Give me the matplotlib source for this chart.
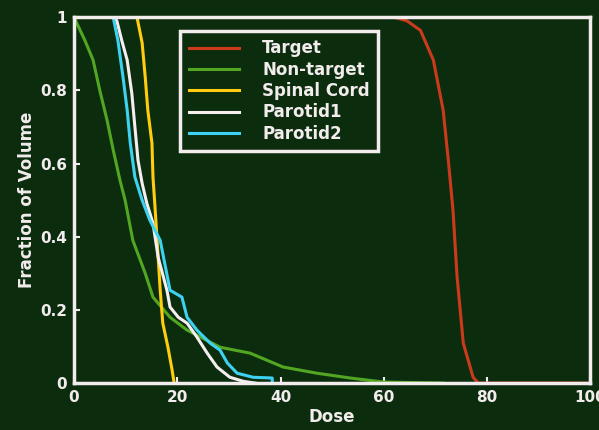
"""
Dose-volume histogram: target, non-target and three organs at risk.
Dark green background, white frame and bold white text.
Saves out.png at 599x430.
"""

import matplotlib.pyplot as plt

BG = '#0b2d0e'
FG = '#f2ecec'

# --------------------------------------------------------------------------- #
# Data
# --------------------------------------------------------------------------- #

target_dose = [0, 62, 64.5, 67.1, 69.6, 71.5, 72.5, 73.4, 74.2, 75.4, 77.3, 78.3, 100]
target_frac = [1.0, 1.0, 0.99, 0.964, 0.883, 0.746, 0.609, 0.473, 0.29, 0.109, 0.016, 0.0, 0.0]

nontarget_dose = [0, 2.1, 3.7, 5.0, 6.4, 7.6, 8.9, 9.9, 11.4, 13.8, 15.3, 18.6,
                  21.9, 28.3, 34.1, 40.5, 47.1, 53.5, 59.9, 71.5]
nontarget_frac = [1.0, 0.937, 0.883, 0.80, 0.719, 0.637, 0.555, 0.50, 0.39, 0.30,
                  0.235, 0.18, 0.145, 0.098, 0.082, 0.044, 0.027, 0.014, 0.003, 0.0]

cord_dose = [0, 12.2, 13.2, 13.8, 14.3, 15.1, 15.3, 15.7, 16.1, 16.7, 17.2, 18.2, 19.0, 19.4]
cord_frac = [1.0, 1.0, 0.93, 0.836, 0.746, 0.656, 0.563, 0.48, 0.39, 0.254, 0.164,
             0.098, 0.036, 0.0]

parotid1_dose = [0, 7.6, 8.3, 9.3, 10.3, 11.2, 11.8, 12.4, 13.2, 14.1, 15.3, 16.3,
                 18.0, 18.6, 20.2, 21.9, 23.8, 25.8, 27.7, 30.2, 32.8, 35.1]
parotid1_frac = [1.0, 1.0, 0.99, 0.934, 0.883, 0.792, 0.70, 0.609, 0.546, 0.492,
                 0.437, 0.344, 0.254, 0.208, 0.18, 0.164, 0.126, 0.082, 0.044,
                 0.016, 0.005, 0.0]

parotid2_dose = [0, 7.6, 8.5, 9.5, 10.3, 10.9, 11.8, 13.2, 14.7, 16.7, 18.6, 20.9,
                 21.9, 23.8, 26.4, 28.3, 29.7, 31.6, 34.7, 38.4, 38.4]
parotid2_frac = [1.0, 1.0, 0.937, 0.836, 0.746, 0.656, 0.563, 0.50, 0.445, 0.39,
                 0.254, 0.235, 0.18, 0.145, 0.109, 0.09, 0.055, 0.027, 0.016,
                 0.014, 0.0]

x_ticks = [0, 20, 40, 60, 80, 100]
y_ticks = [0, 0.2, 0.4, 0.6, 0.8, 1]
y_tick_labels = ['0', '0.2', '0.4', '0.6', '0.8', '1']


# --------------------------------------------------------------------------- #
# Plot
# --------------------------------------------------------------------------- #

fig = plt.figure(figsize=(5.99, 4.30), dpi=100, facecolor=BG)
ax = fig.add_axes([0.1235, 0.109, 0.862, 0.851], facecolor=BG)

ax.plot(target_dose, target_frac, color='#cc3a1c', lw=2.2, label='Target')
ax.plot(nontarget_dose, nontarget_frac, color='#52a622', lw=2.2, label='Non-target')
ax.plot(cord_dose, cord_frac, color='#ffcc10', lw=2.2, label='Spinal Cord')
ax.plot(parotid1_dose, parotid1_frac, color='#f4eef0', lw=2.2, label='Parotid1')
ax.plot(parotid2_dose, parotid2_frac, color='#3ed2f2', lw=2.2, label='Parotid2')

ax.set_xlim(0, 100)
ax.set_ylim(0, 1)
ax.set_xticks(x_ticks)
ax.set_yticks(y_ticks)
ax.set_yticklabels(y_tick_labels)
ax.tick_params(colors=FG, direction='in', length=4, width=1.5,
               labelsize=11, pad=5)
for lab in ax.get_xticklabels() + ax.get_yticklabels():
    lab.set_fontweight('bold')
for sp in ax.spines.values():
    sp.set_color(FG)
    sp.set_linewidth(2.5)

ax.set_xlabel('Dose', color=FG, fontsize=12, fontweight='bold', labelpad=2)
ax.set_ylabel('Fraction of Volume', color=FG, fontsize=12, fontweight='bold',
              labelpad=3)

leg = ax.legend(loc='upper left', bbox_to_anchor=(0.19, 0.985),
                facecolor=BG, edgecolor=FG, framealpha=1, fancybox=False,
                handlelength=3.0, handletextpad=1.4, borderpad=0.5,
                labelspacing=0.2, prop={'weight': 'bold', 'size': 12})
leg.get_frame().set_linewidth(2.5)
for t in leg.get_texts():
    t.set_color(FG)

fig.savefig('out.png', dpi=100, facecolor=BG)
